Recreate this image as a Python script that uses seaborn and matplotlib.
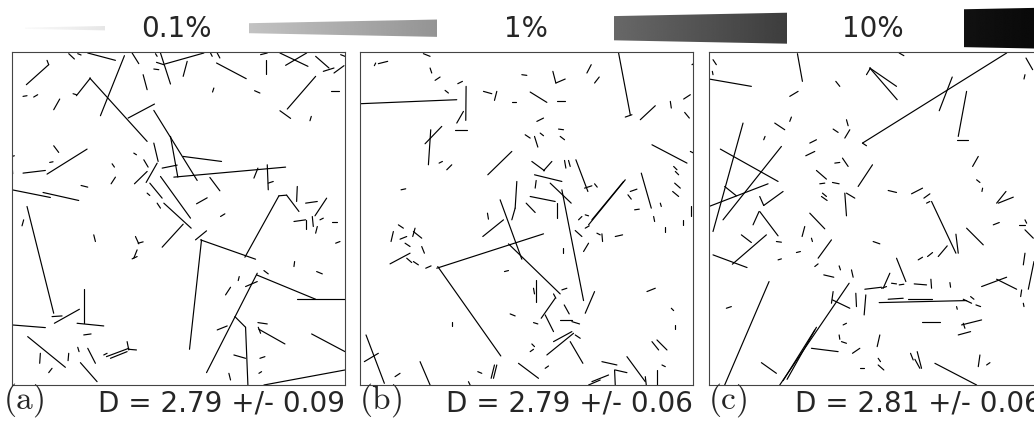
import numpy as np
import pandas as pd
import matplotlib
matplotlib.use("Agg")
import matplotlib.pyplot as plt
import seaborn as sns
from matplotlib.patches import Polygon

# ---------------- data ----------------
panel_tags = ["a", "b", "c"]
D_values = [2.79, 2.79, 2.81]
D_errors = [0.09, 0.06, 0.06]
scale_labels = ["0.1%", "1%", "10%"]

# fracture segments (x0, y0, x1, y1) in each panel's own frame units (y downward)
segments_a = [
    (205,42,222,58),(232,42,242,46),(262,40,345,62),(372,48,300,228),(395,40,415,72),
    (465,42,470,50),(480,40,510,133),(493,73,610,40),(468,68,490,75),(460,88,475,90),
    (560,65,548,110),(630,40,635,50),(650,40,658,55),(648,70,737,117),(795,60,795,103),
    (780,45,800,40),(855,77,918,40),(838,40,922,80),(945,50,985,85),(968,95,1000,85),
    (1020,45,1033,50),(1000,100,1030,78),(140,62,145,75),(145,75,78,135),(68,170,80,168),
    (100,172,112,165),(268,115,440,305),(270,115,228,168),(218,162,228,165),(178,178,160,210),
    (428,105,440,150),(640,145,636,157),(762,153,778,160),(990,155,1015,155),(945,110,860,208),
    (838,213,870,236),(932,230,928,243),(383,235,462,193),(460,212,590,422),(510,290,532,412),
    (520,412,855,382),(548,350,663,365),(460,310,473,365),(260,328,140,403),(68,400,135,392),
    (160,318,175,338),(148,368,158,366),(35,370,37,402),(35,350,42,348),(35,450,150,473),
    (128,458,235,482),(80,500,160,820),(155,830,185,828),(162,850,237,808),(70,540,65,558),
    (35,855,135,863),(250,748,250,850),(230,850,310,858),(250,885,272,882),(82,890,195,982),
    (120,940,118,970),(155,985,145,998),(205,940,203,962),(232,922,236,935),(262,925,285,970),
    (240,968,290,1025),(310,945,320,940),(318,950,385,925),(330,955,380,935),(380,905,385,930),
    (385,928,408,930),(335,372,342,382),(345,412,332,432),(242,437,262,442),(400,340,408,345),
    (430,360,443,382),(440,395,402,432),(437,428,470,370),(440,460,448,467),(448,430,485,475),
    (480,410,570,535),(485,385,530,376),(470,490,480,505),(490,490,572,565),(548,553,485,622),
    (628,413,658,453),(588,492,620,474),(660,530,673,522),(585,600,618,573),(600,600,765,658),
    (603,600,567,928),(733,652,835,468),(835,468,858,466),(858,466,895,515),(890,440,888,485),
    (915,490,950,485),(978,475,943,528),(880,545,915,540),(915,540,915,568),(935,530,938,560),
    (950,560,945,580),(958,540,968,535),(995,545,1010,545),(1005,610,1018,605),(772,385,760,415),
    (800,375,803,450),(803,430,818,425),(280,585,285,605),(405,590,415,612),(413,610,428,606),
    (410,630,400,655),(395,657,410,650),(882,665,880,680),(948,695,965,702),(790,692,803,702),
    (716,710,713,722),(690,742,675,765),(735,740,770,725),(768,705,945,778),(888,778,1033,778),
    (770,700,618,998),(703,830,735,862),(735,862,742,1035),(650,870,680,858),(772,848,800,852),
    (773,862,780,880),(775,868,853,912),(933,882,1033,935),(700,945,735,955),(778,955,793,950),
    (775,1000,783,995),(685,1000,690,1020),(790,1035,1033,990),
]

segments_b = [
    (68,78,72,70),(80,72,108,65),(215,42,235,50),(235,85,240,100),(250,122,265,112),
    (318,132,332,125),(280,152,290,160),(25,192,315,180),(343,140,342,242),(335,215,315,250),
    (310,270,345,270),(270,260,220,312),(237,270,230,375),(262,370,272,365),(285,390,300,375),
    (395,155,420,162),(435,155,428,182),(480,188,492,188),(510,105,525,107),(535,157,585,188),
    (615,185,638,185),(603,95,612,130),(612,130,640,118),(705,100,718,75),(728,130,742,112),
    (800,40,835,225),(820,232,840,225),(865,240,910,198),(955,185,958,205),(995,178,1015,165),
    (998,218,1012,235),(1020,75,1025,72),(555,245,575,235),(520,285,535,295),(548,290,558,322),
    (565,280,575,288),(620,268,635,270),(625,290,638,300),(408,405,480,335),(148,450,162,447),
    (540,365,578,393),(575,393,600,365),(638,362,642,385),(650,362,655,380),(672,360,708,455),
    (548,405,630,425),(553,422,550,445),(595,430,658,490),(698,445,720,438),(728,432,736,442),
    (495,425,490,505),(490,505,480,540),(535,470,610,485),(523,490,550,518),(615,490,615,535),
    (445,480,510,658),(630,450,695,782),(820,420,710,555),(815,425,720,540),(700,525,710,528),
    (680,540,690,530),(670,572,690,590),(700,565,712,558),(735,580,745,585),(750,582,752,605),
    (790,590,812,585),(835,455,855,448),(828,465,838,478),(868,400,898,505),(848,510,862,508),
    (900,315,1005,370),(965,380,975,390),(970,395,980,405),(968,430,985,445),(962,455,980,470),
    (925,490,928,500),(1018,500,1018,530),(993,540,993,555),(940,560,940,575),(905,530,908,545),
    (1015,335,1025,340),(407,520,410,538),(393,590,455,540),(125,575,118,605),(140,555,155,565),
    (145,598,165,590),(160,610,175,620),(185,575,210,595),(190,565,183,590),(210,620,218,640),
    (115,672,175,640),(165,655,180,668),(185,665,200,675),(222,685,238,678),(255,685,575,582),
    (258,680,447,948),(470,612,625,762),(695,635,710,610),(633,625,633,640),(458,695,470,692),
    (553,720,553,785),(545,745,548,762),(630,750,645,745),(605,762,612,775),(728,755,700,820),
    (610,775,568,835),(580,825,605,875),(625,840,660,840),(660,845,683,852),(637,795,652,822),
    (475,822,490,828),(545,848,558,852),(300,845,300,858),(885,755,910,745),(958,805,965,812),
    (970,855,970,868),(605,905,660,875),(585,945,665,880),(670,885,685,895),(655,905,693,970),
    (540,912,548,920),(535,935,545,928),(43,885,98,1030),(38,965,80,940),(130,1010,145,1000),
    (205,965,235,1035),(378,995,390,1000),(350,1025,355,1035),(428,975,418,1015),(435,975,425,1015),
    (500,970,560,1015),(580,985,590,978),(750,965,795,975),(790,990,825,998),(720,1025,770,1005),
    (710,1035,745,1020),(788,990,790,1035),(825,950,880,1025),(880,1010,883,1035),(915,990,915,1035),
    (900,905,920,930),(915,900,945,930),(930,975,940,980),
]

segments_c = [
    (40,60,50,75),(38,95,40,105),(28,118,155,140),(293,42,308,125),(270,170,295,155),
    (408,125,420,140),(510,85,590,140),(510,85,592,180),(500,105,512,85),(598,40,612,48),
    (488,310,920,40),(488,310,500,318),(718,213,757,112),(800,155,775,290),(772,300,805,300),
    (978,55,998,90),(975,105,972,118),(225,250,255,270),(270,245,275,232),(192,300,196,290),
    (130,250,40,575),(62,328,235,425),(245,320,70,540),(28,500,205,432),(75,440,110,468),
    (180,470,192,497),(192,497,250,455),(178,515,160,555),(180,515,235,588),(125,585,155,608),
    (40,645,142,683),(200,585,98,673),(230,605,245,607),(235,660,245,657),(290,638,302,635),
    (400,268,415,278),(440,240,445,258),(435,295,450,270),(330,310,350,300),(318,348,345,335),
    (405,370,420,368),(428,355,445,380),(350,392,380,418),(360,432,375,430),(398,428,418,432),
    (368,460,380,470),(365,470,382,482),(435,460,440,528),(440,460,465,475),(475,440,518,375),
    (565,452,590,458),(635,462,668,445),(672,475,690,462),(680,490,690,485),(695,485,768,640),
    (768,583,775,640),(835,350,818,380),(830,420,840,428),(848,445,846,455),(890,490,918,455),
    (895,490,940,472),(880,555,898,548),(958,555,975,555),(975,540,980,550),(975,570,1000,595),
    (800,565,850,615),(330,520,375,567),(315,560,307,590),(335,595,338,605),(395,600,355,655),
    (520,605,540,612),(655,660,668,652),(683,650,698,638),(715,650,742,618),(590,655,618,725),
    (345,680,355,672),(418,678,422,690),(455,690,460,712),(372,705,402,712),(448,730,240,1035),
    (345,870,250,1022),(350,862,262,1018),(208,725,75,1035),(570,700,550,745),(575,730,590,732),
    (598,735,612,733),(643,732,680,735),(693,718,695,745),(495,748,545,742),(545,745,560,740),
    (750,728,752,742),(845,740,920,712),(890,718,950,748),(965,750,962,770),(975,640,970,675),
    (985,748,1002,665),(970,790,972,800),(400,755,395,790),(398,780,450,805),(468,760,470,800),
    (498,765,493,825),(538,788,800,782),(565,778,610,775),(625,778,695,778),(790,778,815,790),
    (812,770,822,778),(828,795,842,800),(770,800,772,808),(665,845,720,845),(785,855,845,840),
    (790,850,795,865),(775,885,812,875),(430,855,440,850),(418,885,420,898),(425,905,440,910),
    (540,885,532,920),(335,925,415,935),(458,940,480,925),(632,940,640,960),(652,935,665,985),
    (645,958,660,985),(840,945,835,980),(860,975,870,968),(535,955,542,965),(535,975,552,990),
    (480,985,492,985),(185,968,230,1000),(705,970,830,1035),(80,805,95,800),
]

panel_segments = [segments_a, segments_b, segments_c]
frame_left = [35, 25, 28]      # left edge of each panel frame in its own units
frame_top, frame_span = 37, 998

# ---------------- figure ----------------
sns.set_theme(style="white")
plt.rcParams["font.family"] = ["DejaVu Sans"]
plt.rcParams["mathtext.fontset"] = "cm"

W, H = 1034, 421
fig = plt.figure(figsize=(W / 100, H / 100), dpi=100)

panel_px_left = [12, 360, 709]
panel_px = 333
panel_px_bottom = 385
tag_px_left = [3, 359, 708]

for i, segs in enumerate(panel_segments):
    ax = fig.add_axes([panel_px_left[i] / W, (H - panel_px_bottom) / H, panel_px / W, panel_px / H])
    rows = []
    for k, (x0, y0, x1, y1) in enumerate(segs):
        rows.append({"seg": k, "x": x0, "y": y0})
        rows.append({"seg": k, "x": x1, "y": y1})
    df = pd.DataFrame(rows)
    sns.lineplot(data=df, x="x", y="y", units="seg", estimator=None, sort=False,
                 color="black", linewidth=0.85, ax=ax)
    ax.set_xlim(frame_left[i], frame_left[i] + frame_span)
    ax.set_ylim(frame_top + frame_span, frame_top)
    ax.set(xticks=[], yticks=[], xlabel="", ylabel="")
    for sp in ax.spines.values():
        sp.set_visible(True)
        sp.set_color("#444444")
        sp.set_linewidth(0.8)
    right_px = panel_px_left[i] + panel_px
    fig.text(tag_px_left[i] / W, (H - 400) / H, r"$\mathrm{(%s)}$" % panel_tags[i],
             fontsize=24, va="center", ha="left")
    fig.text(right_px / W, (H - 411.5) / H,
             "D = %.2f +/- %.2f" % (D_values[i], D_errors[i]),
             fontsize=20, va="baseline", ha="right")

# ---------------- top intensity legend ----------------
lax = fig.add_axes([0, (H - 52) / H, 1, 52 / H])
lax.set_xlim(0, W)
lax.set_ylim(52, 0)
lax.axis("off")

label_px = [176, 526, 873]
pieces = [(25, 105), (249, 437), (614, 787), (964, 1120)]
x_start, x_end = 25, 1034
yc = 28.2

def half_h(x):
    return 0.63 + 0.0195 * (x - x_start)

grad = np.linspace(0, 1, 512)[None, :]
for (xa, xb) in pieces:
    g0 = 0.98 * (1 - (xa - x_start) / (x_end - x_start))
    g1 = max(0.0, 0.98 * (1 - (xb - x_start) / (x_end - x_start)))
    img = g0 + (g1 - g0) * grad
    im = lax.imshow(img, cmap="gray", vmin=0, vmax=1, aspect="auto",
                    extent=(xa, xb, yc + 25, yc - 25), interpolation="bilinear")
    poly = Polygon([(xa, yc - half_h(xa)), (xb, yc - half_h(xb)),
                    (xb, yc + half_h(xb)), (xa, yc + half_h(xa))],
                   closed=True, transform=lax.transData, facecolor="none", edgecolor="none")
    lax.add_patch(poly)
    im.set_clip_path(poly)
lax.set_xlim(0, W)
lax.set_ylim(52, 0)

for lbl, px in zip(scale_labels, label_px):
    fig.text(px / W, (H - 37) / H, lbl, fontsize=20, ha="center", va="baseline")

fig.savefig("out.png", dpi=100)
